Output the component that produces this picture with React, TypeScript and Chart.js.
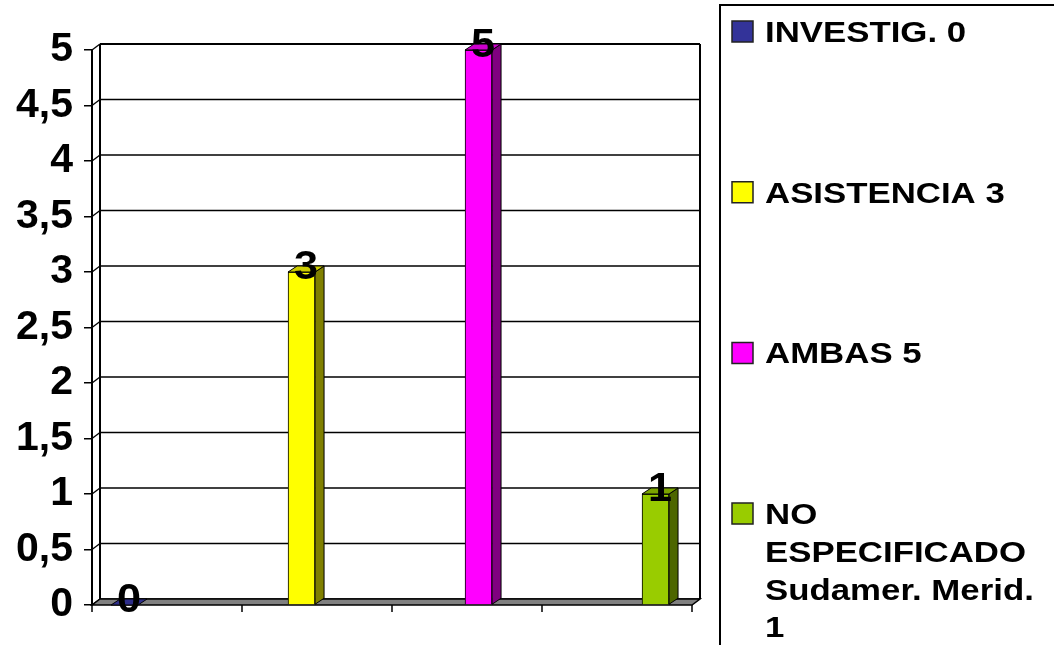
import { useEffect, useRef } from 'react';
import { Chart, registerables } from 'chart.js';

Chart.register(...registerables);

// ---- data ----
const categories = ['INVESTIG.', 'ASISTENCIA', 'AMBAS', 'NO ESPECIFICADO Sudamer. Merid.'];
const values = [0, 3, 5, 1];
const dataLabels = ['0', '3', '5', '1'];
const yTickLabels = ['0', '0,5', '1', '1,5', '2', '2,5', '3', '3,5', '4', '4,5', '5'];
const frontColors = ['#333399', '#FFFF00', '#FF00FF', '#99CC00'];
const topColors = ['#2E2E8A', '#CCCC00', '#CC00CC', '#7AA300'];
const sideColors = ['#1A1A4D', '#808000', '#800080', '#4D6600'];

const FONT = '"Liberation Sans", Arial, Helvetica, sans-serif';
const WALL_DX = 8;
const WALL_DY = 6;
const BAR_DX = 9;
const BAR_DY = 6;

function poly(ctx: CanvasRenderingContext2D, pts: number[][], fill?: string, stroke?: string, lw = 1) {
  ctx.beginPath();
  ctx.moveTo(pts[0][0], pts[0][1]);
  for (let i = 1; i < pts.length; i++) ctx.lineTo(pts[i][0], pts[i][1]);
  ctx.closePath();
  if (fill) {
    ctx.fillStyle = fill;
    ctx.fill();
  }
  if (stroke) {
    ctx.strokeStyle = stroke;
    ctx.lineWidth = lw;
    ctx.stroke();
  }
}

function line(ctx: CanvasRenderingContext2D, x1: number, y1: number, x2: number, y2: number) {
  ctx.beginPath();
  ctx.moveTo(x1, y1);
  ctx.lineTo(x2, y2);
  ctx.stroke();
}

const LEGEND_SX = 1.2;

function wrapWords(ctx: CanvasRenderingContext2D, text: string, maxW: number): string[] {
  const words = text.split(' ');
  const lines: string[] = [];
  let cur = '';
  for (const w of words) {
    const test = cur ? cur + ' ' + w : w;
    if (cur && ctx.measureText(test).width * LEGEND_SX > maxW) {
      lines.push(cur);
      cur = w;
    } else {
      cur = test;
    }
  }
  if (cur) lines.push(cur);
  return lines;
}

const threeD = {
  id: 'threeD',
  beforeDatasetsDraw(chart: any) {
    const { ctx, chartArea: a, scales } = chart;
    const y = scales.y;
    ctx.save();
    // back wall gridlines + side-wall diagonals
    ctx.strokeStyle = '#000';
    ctx.lineWidth = 1.3;
    y.ticks.forEach((t: any) => {
      const py = y.getPixelForValue(t.value);
      line(ctx, a.left, py, a.left + WALL_DX, py - WALL_DY);
      line(ctx, a.left + WALL_DX, py - WALL_DY, a.right + WALL_DX, py - WALL_DY);
    });
    // back wall outline
    ctx.lineWidth = 2;
    line(ctx, a.left + WALL_DX, a.top - WALL_DY, a.left + WALL_DX, a.bottom - WALL_DY);
    line(ctx, a.left + WALL_DX, a.top - WALL_DY, a.right + WALL_DX, a.top - WALL_DY);
    line(ctx, a.right + WALL_DX, a.top - WALL_DY, a.right + WALL_DX, a.bottom - WALL_DY);
    // floor
    poly(
      ctx,
      [
        [a.left, a.bottom],
        [a.right, a.bottom],
        [a.right + WALL_DX, a.bottom - WALL_DY],
        [a.left + WALL_DX, a.bottom - WALL_DY],
      ],
      '#808080',
      '#000',
      1.5
    );
    // x-axis tick marks
    ctx.lineWidth = 1.5;
    for (let k = 0; k <= 4; k++) {
      const px = a.left + (k * (a.right - a.left)) / 4;
      line(ctx, px, a.bottom, px, a.bottom + 7);
    }
    ctx.restore();
  },
  afterDatasetsDraw(chart: any) {
    const { ctx } = chart;
    const meta = chart.getDatasetMeta(0);
    ctx.save();
    meta.data.forEach((bar: any, i: number) => {
      const { x, y, base, width } = bar.getProps(['x', 'y', 'base', 'width'], true);
      const x0 = x - width / 2;
      const x1 = x + width / 2;
      if (base - y > 0.5) {
        poly(
          ctx,
          [
            [x1, y],
            [x1 + BAR_DX, y - BAR_DY],
            [x1 + BAR_DX, base - BAR_DY],
            [x1, base],
          ],
          sideColors[i],
          '#000',
          1
        );
      }
      poly(
        ctx,
        [
          [x0, y],
          [x1, y],
          [x1 + BAR_DX, y - BAR_DY],
          [x0 + BAR_DX, y - BAR_DY],
        ],
        topColors[i],
        '#000',
        1
      );
    });
    // value labels
    ctx.fillStyle = '#000';
    ctx.font = `bold 40px ${FONT}`;
    ctx.textAlign = 'center';
    ctx.textBaseline = 'alphabetic';
    meta.data.forEach((bar: any, i: number) => {
      const { x, y } = bar.getProps(['x', 'y'], true);
      ctx.save();
      ctx.translate(x + BAR_DX / 2, y + 7);
      ctx.scale(1.08, 1);
      ctx.fillText(dataLabels[i], 0, 0);
      ctx.restore();
    });
    ctx.restore();
  },
  afterDraw(chart: any) {
    const { ctx } = chart;
    ctx.save();
    // legend frame
    ctx.strokeStyle = '#000';
    ctx.lineWidth = 2;
    ctx.strokeRect(720, 5, 400, 700);
    ctx.font = `bold 29px ${FONT}`;
    ctx.textAlign = 'left';
    ctx.textBaseline = 'alphabetic';
    categories.forEach((cat, i) => {
      const baseY = 42 + i * 160.7;
      poly(
        ctx,
        [
          [732, baseY - 21],
          [753, baseY - 21],
          [753, baseY],
          [732, baseY],
        ],
        frontColors[i],
        '#222',
        1.5
      );
      const lines = wrapWords(ctx, `${cat} ${dataLabels[i]}`, 284);
      lines.forEach((ln, j) => {
        ctx.save();
        ctx.translate(765, baseY + j * 37.7);
        ctx.scale(LEGEND_SX, 1);
        ctx.fillStyle = '#000';
        ctx.fillText(ln, 0, 0);
        ctx.restore();
      });
    });
    ctx.restore();
  },
};

export default function App() {
  const canvasRef = useRef<HTMLCanvasElement | null>(null);

  useEffect(() => {
    if (!canvasRef.current) return;
    const chart = new Chart(canvasRef.current, {
      type: 'bar',
      data: {
        datasets: [
          {
            data: values.map((v, i) => ({ x: i, y: v })),
            backgroundColor: frontColors,
            borderColor: '#000',
            borderWidth: 1,
            barThickness: 27,
          },
        ],
      },
      options: {
        animation: false,
        responsive: false,
        layout: { padding: { top: 50, right: 362, bottom: 40, left: 0 } },
        plugins: { legend: { display: false }, tooltip: { enabled: false } },
        scales: {
          x: { type: 'linear', offset: false, min: -0.184, max: 3.206, display: false },
          y: {
            min: 0,
            max: 5,
            ticks: {
              stepSize: 0.5,
              autoSkip: false,
              color: '#000',
              padding: 11,
              font: { family: FONT, size: 41, weight: 'bold' },
              callback: (_v: any, i: number) => yTickLabels[i],
            },
            grid: { drawOnChartArea: false, drawTicks: true, tickLength: 8, color: '#000', lineWidth: 1.5 },
            border: { display: true, color: '#000', width: 2 },
            afterFit: (s: any) => {
              s.width = 92;
            },
          },
        },
      } as any,
      plugins: [threeD],
    });
    return () => chart.destroy();
  }, []);

  return (
    <div style={{ position: 'absolute', left: 0, top: 0, width: 1054, height: 645, background: '#fff' }}>
      <canvas ref={canvasRef} width={1054} height={645} style={{ display: 'block' }} />
    </div>
  );
}
